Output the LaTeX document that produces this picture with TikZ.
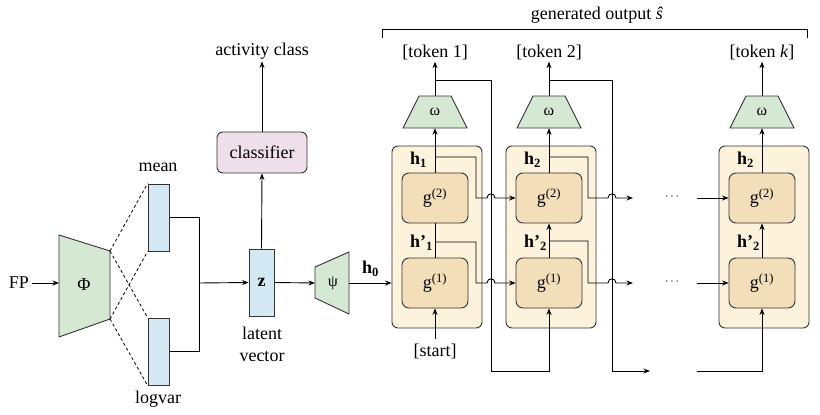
\documentclass[tikz,border=0pt]{standalone}
\usepackage{fontspec}
\setmainfont{Liberation Serif}
\usetikzlibrary{arrows.meta,calc}
\definecolor{cgreen}{HTML}{D5E8D4}
\definecolor{cblue}{HTML}{D4E8F4}
\definecolor{cpink}{HTML}{EEDFEA}
\definecolor{cyel}{HTML}{FDF3DD}
\definecolor{ctan}{HTML}{F3DEBA}
\definecolor{cline}{HTML}{333333}
\tikzset{
  every node/.style={font=\fontsize{18}{21}\selectfont, inner sep=0pt},
  conn/.style={line width=0.9pt, draw=black},
  arr/.style={conn, -{Stealth[length=6.5pt,width=5pt]}},
  dashline/.style={line width=0.8pt, draw=black, dash pattern=on 3pt off 2.5pt},
  vecbox/.style={draw=cline, line width=0.9pt, fill=cblue},
  outerbox/.style={draw=cline, line width=0.9pt, fill=cyel, rounded corners=6pt, minimum width=90pt, minimum height=182pt},
  cellbox/.style={draw=cline, line width=0.9pt, fill=ctan, rounded corners=7pt, minimum width=66pt, minimum height=50pt},
  trap/.style={draw=cline, line width=0.9pt, fill=cgreen},
  traplab/.style={font=\fontsize{16}{18}\selectfont, minimum width=64pt, minimum height=32pt},
  hlab/.style={font=\fontsize{18}{21}\selectfont\bfseries, anchor=west},
  dotlab/.style={font=\fontsize{12}{13}\selectfont},
}
\newcommand{\hsub}[2]{\textbf{#1}\textsubscript{\textbf{#2}}}
\begin{document}
\begin{tikzpicture}[x=1pt,y=-1pt]
\useasboundingbox (0,0) rectangle (820,415);

% ---------- encoder ----------
\node (fp) at (19,283) {FP};
\draw[trap] (59,235) -- (110,251) -- (110,319) -- (59,337) -- cycle;
\node (phi) at (84,285) {Φ};
\coordinate (phiin) at (59,283);
\draw[arr] (fp.east) ++(3,0) -- (phiin);

\node[vecbox, minimum width=21pt, minimum height=67pt] (mean) at (158.5,217.5) {};
\node[vecbox, minimum width=21pt, minimum height=67pt] (logv) at (158.5,351.5) {};
\node (meanlab) at (158,167) {mean};
\node (logvlab) at (158,399) {logvar};
\coordinate (phitr) at (110,251);
\coordinate (phibr) at (110,319);
\draw[dashline] (phitr) -- (mean.north west);
\draw[dashline] (phitr) -- (logv.north west);
\draw[dashline] (phibr) -- (mean.south west);
\draw[dashline] (phibr) -- (logv.south west);

\node[vecbox, minimum width=25pt, minimum height=67pt, font=\fontsize{18}{21}\selectfont\bfseries] (z) at (261.5,282.5) {z};
\coordinate (join) at (199,283);
\draw[conn] (mean.east) -| (join);
\draw[conn] (logv.east) -| (join);
\draw[arr] (join) -- (z.west);
\node[align=center, font=\fontsize{18}{22}\selectfont] (lat) at (262,344) {latent\\vector};

\node[draw=cline, line width=0.9pt, fill=cpink, rounded corners=6pt, minimum width=90pt, minimum height=41pt] (cls) at (262,152.5) {classifier};
\node (act) at (262,51) {activity class};
\draw[arr] (z.north) -- (cls.south);
\draw[arr, shorten >=2pt] (cls.north) -- (act.south);

\draw[trap] (315,267) -- (349,252) -- (349,314) -- (315,298) -- cycle;
\node[font=\fontsize{16}{18}\selectfont] (psi) at (333,283) {ψ};
\coordinate (psiin) at (315,283);
\coordinate (psiout) at (349,283);
\draw[arr] (z.east) -- (psiin);
\node[hlab] (h0) at (362,269) {\hsub{h}{0}};

% ---------- top bracket ----------
\coordinate (brl) at (382,38);
\coordinate (brr) at (807,38);
\draw[conn] (brl) -- (382,29) -- (807,29) -- (brr);
\node (gen) at (597,15) {generated output \textit{ŝ}};

% ---------- block 1 ----------
\node[outerbox] (blk1) at (437,237) {};
\node[cellbox] (g21) at (435,198) {g\textsuperscript{(2)}};
\node[cellbox] (g11) at (435,283) {g\textsuperscript{(1)}};
\draw[trap] (403,128) -- (467,128) -- (451,96) -- (419,96) -- cycle;
\node[traplab] (om1) at (435,112) {ω};
\node (tok1) at (435,52) {[token 1]};
\node[hlab] (h1) at (410,160) {\hsub{h}{1}};
\node[hlab] (hp1) at (410,243) {\hsub{h'}{1}};
\node (start) at (435,351) {[start]};
\draw[arr] (psiout) -- (blk1.west |- psiout);

% ---------- block 2 ----------
\node[outerbox] (blk2) at (551,237) {};
\node[cellbox] (g22) at (549,198) {g\textsuperscript{(2)}};
\node[cellbox] (g12) at (549,283) {g\textsuperscript{(1)}};
\draw[trap] (517,128) -- (581,128) -- (565,96) -- (533,96) -- cycle;
\node[traplab] (om2) at (549,112) {ω};
\node (tok2) at (549,52) {[token 2]};
\node[hlab] (h2) at (524,160) {\hsub{h}{2}};
\node[hlab] (hp2) at (524,243) {\hsub{h'}{2}};

% ---------- block k ----------
\node[outerbox] (blkk) at (764,237) {};
\node[cellbox] (g2k) at (762,198) {g\textsuperscript{(2)}};
\node[cellbox] (g1k) at (762,283) {g\textsuperscript{(1)}};
\draw[trap] (730,128) -- (794,128) -- (778,96) -- (746,96) -- cycle;
\node[traplab] (omk) at (762,112) {ω};
\node (tokk) at (762,52) {[token \textit{k}]};
\node[hlab] (h2k) at (737,160) {\hsub{h}{2}};
\node[hlab] (hp2k) at (737,243) {\hsub{h'}{2}};

\node[dotlab] (dots2) at (672,197) {$\cdots$};
\node[dotlab] (dots1) at (672,282) {$\cdots$};
\coordinate (in2) at (697,198);
\coordinate (in1) at (697,283);
\coordinate (fbend) at (650,371);
\coordinate (fbstart) at (697,371);

% ---------- block 1 connectors ----------
\draw[conn] (g11.north) -- (g21.south);
\draw[arr] (g21.north) -- (om1.south);
\draw[arr, shorten >=2pt] (om1.north) -- (tok1.south);
\draw[arr, shorten <=4pt] (start.north) -- (g11.south);
\coordinate (fb1) at (435,80);
\draw[arr] (fb1) -- (491,80) -- (491,371) -| (g12.south);
\draw[arr] (435,157) -- (476,157) -- (476,198) -- (487,198)
  .. controls (487,192.5) and (495,192.5) .. (495,198) -- (g22.west);
\draw[arr] (435,242) -- (476,242) -- (476,283) -- (487,283)
  .. controls (487,277.5) and (495,277.5) .. (495,283) -- (g12.west);

% ---------- block 2 connectors ----------
\draw[arr] (g12.north) -- (g22.south);
\draw[arr] (g22.north) -- (om2.south);
\draw[arr, shorten >=2pt] (om2.north) -- (tok2.south);
\coordinate (fb2) at (549,80);
\draw[arr] (fb2) -- (612,80) -- (612,371) -- (fbend);
\draw[arr] (549,157) -- (588,157) -- (588,198) -- (608,198)
  .. controls (608,192.5) and (616,192.5) .. (616,198) -- (633,198);
\draw[arr] (549,241) -- (588,241) -- (588,283) -- (608,283)
  .. controls (608,277.5) and (616,277.5) .. (616,283) -- (633,283);

% ---------- block k connectors ----------
\draw[arr] (in2) -- (g2k.west);
\draw[arr] (in1) -- (g1k.west);
\draw[arr] (fbstart) -| (g1k.south);
\draw[arr] (g1k.north) -- (g2k.south);
\draw[arr] (g2k.north) -- (omk.south);
\draw[arr, shorten >=2pt] (omk.north) -- (tokk.south);
\end{tikzpicture}
\end{document}
